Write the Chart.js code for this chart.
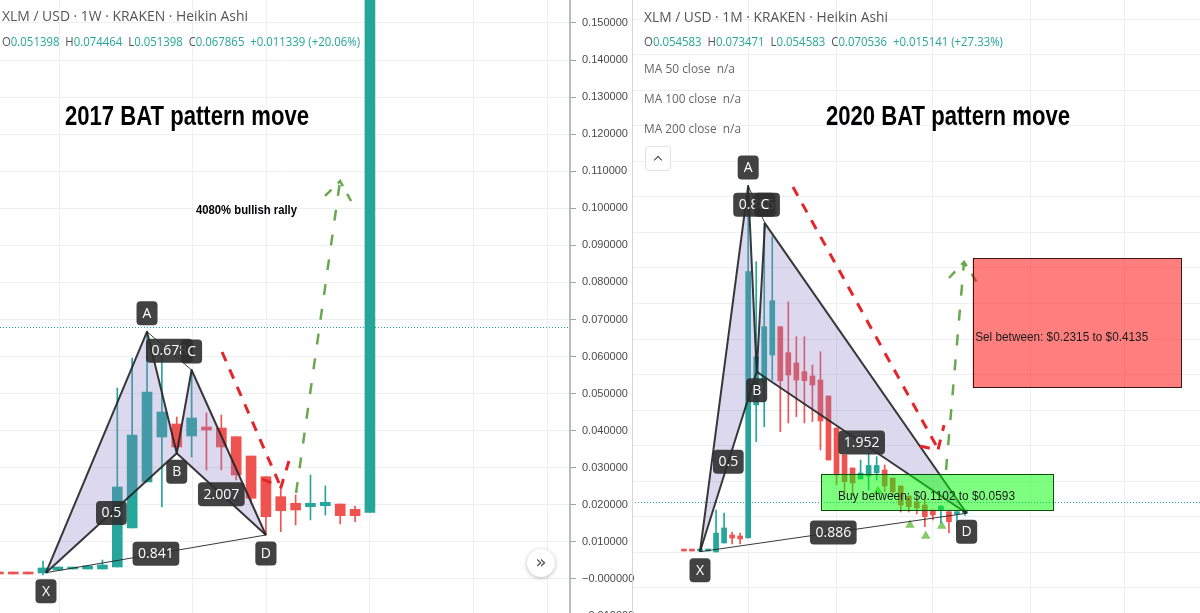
<!DOCTYPE html>
<html><head><meta charset="utf-8">
<script src="https://cdn.jsdelivr.net/npm/chart.js@4.4.1/dist/chart.umd.min.js"></script>
<style>
html,body{margin:0;padding:0;background:#fff;width:1200px;height:613px;overflow:hidden;}
#wrap{position:relative;width:1200px;height:613px;}
canvas{position:absolute;top:0;}
#cl{left:0;} #cr{left:632px;}
.t{position:absolute;white-space:nowrap;line-height:1;transform-origin:0 50%;font-family:"Open Sans",sans-serif;color:#555;}
.k{color:#555;} .v{color:#26a69a;}
.ttl{font-family:"Liberation Sans",Arial,sans-serif;font-weight:bold;color:#000;}
.btn1{position:absolute;left:527px;top:549px;width:28px;height:28px;border-radius:50%;background:#fff;box-shadow:0 1px 4px rgba(0,0,0,0.28);font:18px "DejaVu Sans",sans-serif;color:#555;text-align:center;line-height:26px;}
.btn2{position:absolute;left:645px;top:146px;width:24px;height:23px;border:1px solid #e0e3eb;border-radius:3px;background:#fff;}
.btn2 i{position:absolute;left:9px;top:10px;width:5px;height:5px;border-left:1.6px solid #444;border-top:1.6px solid #444;transform:rotate(45deg);}
</style></head>
<body>
<div id="wrap">
<canvas id="cl" width="640" height="613"></canvas>
<canvas id="cr" width="568" height="613"></canvas>

<div class="t" data-w="246" style="left:2px;top:7.5px;font-size:15px;">XLM / USD · 1W · KRAKEN · Heikin Ashi</div>
<div class="t" data-w="358" style="left:2px;top:35px;font-size:13px;"><span class="k">O</span><span class="v">0.051398</span>&nbsp; <span class="k">H</span><span class="v">0.074464</span>&nbsp; <span class="k">L</span><span class="v">0.051398</span>&nbsp; <span class="k">C</span><span class="v">0.067865</span>&nbsp; <span class="v">+0.011339 (+20.06%)</span></div>

<div class="t" data-w="244" style="left:644px;top:8.5px;font-size:15px;">XLM / USD · 1M · KRAKEN · Heikin Ashi</div>
<div class="t" data-w="359" style="left:644px;top:35px;font-size:13px;"><span class="k">O</span><span class="v">0.054583</span>&nbsp; <span class="k">H</span><span class="v">0.073471</span>&nbsp; <span class="k">L</span><span class="v">0.054583</span>&nbsp; <span class="k">C</span><span class="v">0.070536</span>&nbsp; <span class="v">+0.015141 (+27.33%)</span></div>
<div class="t" data-w="91" style="left:644px;top:62px;font-size:13px;color:#666;">MA 50 close&nbsp; n/a</div>
<div class="t" data-w="97" style="left:644px;top:92px;font-size:13px;color:#666;">MA 100 close&nbsp; n/a</div>
<div class="t" data-w="97" style="left:644px;top:122px;font-size:13px;color:#666;">MA 200 close&nbsp; n/a</div>
<div class="btn2"><i></i></div>

<div class="t ttl" data-w="244" style="left:65px;top:101.8px;font-size:28px;">2017 BAT pattern move</div>
<div class="t ttl" data-w="244" style="left:826px;top:101.8px;font-size:28px;">2020 BAT pattern move</div>
<div class="t ttl" data-w="101" style="left:196px;top:204px;font-size:12px;">4080% bullish rally</div>
<div class="btn1">»</div>
</div>

<script>
// ---------------- LEFT PANEL : XLM/USD weekly (Heikin Ashi) ----------------
const L_IDX   = [-3,-2,-1,0,1,2,3,4,5,6,7,8,9,10,11,12,13,14,15,16,17,18,19,20,21,22];
const L_OPEN  = [0.00189,0.00189,0.00189,0.00162,0.00243,0.0027,0.0027,0.0027,0.00324,0.01376,0.02617,0.03831,0.04181,0.03858,0.0410,0.04073,0.03839,0.03318,0.0276,0.0222,0.02042,0.0195,0.01977,0.02023,0.0188,0.01799];
const L_HIGH  = [0.00189,0.00189,0.00189,0.00486,0.00324,0.0031,0.00351,0.00513,0.05152,0.05962,0.06671,0.06177,0.0437,0.05638,0.04478,0.04424,0.03839,0.03318,0.0276,0.02455,0.02266,0.02805,0.02509,0.02023,0.01969,0.2];
const L_LOW   = [0.00135,0.00135,0.00135,0.00108,0.00243,0.0027,0.0027,0.0027,0.00324,0.01376,0.02617,0.01942,0.03391,0.03291,0.0294,0.0294,0.02671,0.0205,0.01187,0.01276,0.01457,0.01592,0.01726,0.01484,0.01546,0.01799];
const L_CLOSE = [0.00135,0.00135,0.00135,0.00297,0.00324,0.0031,0.00351,0.00378,0.02482,0.03885,0.05044,0.04505,0.03561,0.04343,0.04019,0.03561,0.02805,0.02177,0.01681,0.01842,0.01861,0.02042,0.02069,0.01708,0.01708,0.2];
const L_PAT_NAMES = ['X','A','B','C','D'];
const L_PAT_X = [0.2, 7.0, 9.0, 10.0, 15.0];
const L_PAT_Y = [0.0017, 0.06671, 0.03391, 0.05638, 0.01187];
const L_RATIOS = ['0.5','0.678','2.007','0.841'];      // XB, AC, BD, XD
const L_RED_X = [12.05, 15.88], L_RED_Y = [0.06124, 0.0259];
const L_RED2_X = [14.74, 16.02, 16.55], L_RED2_Y = [0.02698, 0.02482, 0.03183];
const L_GRN_X = [17.03, 19.99], L_GRN_Y = [0.0232, 0.10737];
const L_GRN2_X = [18.98, 19.99, 20.73], L_GRN2_Y = [0.10332, 0.10737, 0.10197];
const L_LAST = 0.067865;
const L_VGRID = [1.14, 10.09, 15.07, 22.0, 28.94, 33.92];
const L_YTICKS = [-0.01,0,0.01,0.02,0.03,0.04,0.05,0.06,0.07,0.08,0.09,0.10,0.11,0.12,0.13,0.14,0.15];

// ---------------- RIGHT PANEL : XLM/USD monthly (Heikin Ashi) ----------------
const R_IDX   = [-2,-1,0,1,2,3,4,5,6,7,8,9,10,11,12,13,14,15,16,17,18,19,20,21,22,23,24,25,26,27,28,29,30,31,32,33];
const R_OPEN  = [0.0032,0.0032,0.0018,0.0018,0.0004,0.0131,0.0243,0.0229,0.0201,0.2072,0.2400,0.2775,0.3173,0.2807,0.2662,0.2540,0.2480,0.2423,0.2198,0.1748,0.1369,0.1186,0.1031,0.1073,0.1120,0.1158,0.1045,0.0933,0.0792,0.0712,0.0665,0.0595,0.0595,0.0571,0.0539,0.0549];
const R_HIGH  = [0.0032,0.0032,0.0046,0.0046,0.0595,0.0553,0.0286,0.0271,0.5152,0.4087,0.4627,0.4439,0.3173,0.3525,0.3032,0.3032,0.2634,0.2821,0.2198,0.1748,0.1369,0.1186,0.1298,0.1397,0.1345,0.1228,0.1045,0.0933,0.0792,0.0712,0.0806,0.0595,0.0651,0.0571,0.0571,0.0595];
const R_LOW   = [0.0018,0.0018,0.0018,0.0018,0.0004,0.0131,0.0117,0.0117,0.0201,0.1556,0.1767,0.2423,0.1696,0.1819,0.1907,0.1819,0.1837,0.1439,0.1298,0.0950,0.0850,0.0800,0.1031,0.0876,0.1017,0.0852,0.0792,0.0567,0.0567,0.0539,0.0360,0.0454,0.0412,0.0271,0.0360,0.0520];
const R_CLOSE = [0.0018,0.0018,0.0032,0.0046,0.0271,0.0342,0.0201,0.0187,0.3947,0.2751,0.3173,0.3539,0.2414,0.2494,0.2423,0.2414,0.2353,0.1847,0.1298,0.1087,0.0993,0.0975,0.1115,0.1221,0.1221,0.0933,0.0852,0.0665,0.0641,0.0623,0.0501,0.0525,0.0651,0.0430,0.0571,0.0595];
const R_PAT_NAMES = ['X','A','B','C','D'];
const R_PAT_X = [0.0, 6.0, 7.06, 8.09, 33.2];
const R_PAT_Y = [0.0008, 0.5152, 0.2540, 0.4627, 0.0549];
const R_RATIOS = ['0.5','0.886','1.952','0.886'];      // XB, AC, BD, XD
const R_RED_X = [11.58, 29.51], R_RED_Y = [0.5138, 0.1481];
const R_RED2_X = [27.4, 29.64, 30.39], R_RED2_Y = [0.1495, 0.1439, 0.179];
const R_GRN_X = [30.64, 32.88], R_GRN_Y = [0.1158, 0.4083];
const R_GRN2_X = [31.01, 32.88, 34.62], R_GRN2_Y = [0.3858, 0.4083, 0.3774];
const R_BUY_X = [15.07, 43.96], R_BUY_Y = [0.0593, 0.1102];
const R_SELL_X = [33.96, 59.9], R_SELL_Y = [0.2315, 0.4135];
const R_SIG_X = [22.17, 26.15, 28.11, 30.1];
const R_SIG_Y = [0.0862, 0.0384, 0.0229, 0.037];
const R_LAST = 0.070536;
const R_VGRID = [6, 17, 29, 41.1, 52.9];
const R_YTICKS = [-0.05,0,0.05,0.1,0.15,0.2,0.25,0.3,0.35,0.4,0.45,0.5,0.55,0.6,0.65,0.7,0.75];

// ---------------- helpers ----------------
const GRID = '#eceff3', TEAL = '#26a69a', RED = '#ef5350';

// fit HTML text widths
document.querySelectorAll('[data-w]').forEach(el => {
  const w = el.getBoundingClientRect().width;
  el.style.transform = 'scaleX(' + (parseFloat(el.dataset.w) / w) + ')';
});

function candleSets(IDX, O, H, L, C, bodyW) {
  const col = IDX.map((_, i) => C[i] >= O[i] ? TEAL : RED);
  return [
    { type: 'bar', data: IDX.map((x, i) => ({ x, y: [O[i], C[i]] })), backgroundColor: col,
      barThickness: bodyW, grouped: false, minBarLength: 2, borderWidth: 0 },
    { type: 'bar', data: IDX.map((x, i) => ({ x, y: [L[i], H[i]] })), backgroundColor: col,
      barThickness: 1, grouped: false, borderWidth: 0 }
  ];
}
function fmt(v) {
  if (Math.abs(v) < 1e-12) return '\u22120.000000';
  return v < 0 ? '\u2212' + Math.abs(v).toFixed(6) : v.toFixed(6);
}
function makeScales(xmin, xmax, vgrid, ymin, ymax, yticks, showY, axisW) {
  return {
    x: { type: 'linear', min: xmin, max: xmax, offset: false,
      grid: { color: GRID, drawTicks: false, offset: false },
      border: { display: false }, ticks: { display: false },
      afterBuildTicks: s => { s.ticks = vgrid.map(v => ({ value: v })); },
      afterFit: s => { s.height = 0; s.paddingLeft = 0; s.paddingRight = 0; } },
    y: { type: 'linear', position: showY ? 'right' : 'left', min: ymin, max: ymax,
      grid: { color: GRID, drawTicks: showY, tickLength: 6, tickColor: '#9a9ea6' },
      border: { display: showY, color: '#b8bbc2', width: 2 },
      ticks: showY ? { display: true, autoSkip: false, padding: 6, color: '#4a4a4a',
        font: { family: 'Liberation Sans', size: 11 }, callback: v => fmt(v) } : { display: false },
      afterBuildTicks: s => { s.ticks = yticks.map(v => ({ value: v })); },
      afterFit: s => { s.width = axisW; s.paddingTop = 0; s.paddingBottom = 0; } }
  };
}
function px(chart, x, y) { return [chart.scales.x.getPixelForValue(x), chart.scales.y.getPixelForValue(y)]; }
function pathOf(ctx, chart, xs, ys) {
  ctx.beginPath();
  xs.forEach((x, i) => { const p = px(chart, x, ys[i]); i ? ctx.lineTo(p[0], p[1]) : ctx.moveTo(p[0], p[1]); });
}
function rr(ctx, x, y, w, h, r) {
  ctx.beginPath(); ctx.moveTo(x + r, y);
  ctx.arcTo(x + w, y, x + w, y + h, r); ctx.arcTo(x + w, y + h, x, y + h, r);
  ctx.arcTo(x, y + h, x, y, r); ctx.arcTo(x, y, x + w, y, r); ctx.closePath();
}
function tag(ctx, text, cx, cy) {
  ctx.font = '14px "Open Sans", sans-serif';
  const w = Math.max(21, ctx.measureText(text).width + 11), h = 24;
  ctx.fillStyle = 'rgba(46,46,46,0.9)'; rr(ctx, cx - w / 2, cy - h / 2, w, h, 4); ctx.fill();
  ctx.fillStyle = '#ffffff'; ctx.textAlign = 'center'; ctx.textBaseline = 'middle';
  ctx.fillText(text, cx, cy + 0.5);
}

function patternPlugin(id, P) {
  return {
    id,
    beforeDatasetsDraw(chart) {
      const { ctx, chartArea: a } = chart;
      const y = Math.round(chart.scales.y.getPixelForValue(P.last)) + 0.5;
      ctx.save(); ctx.strokeStyle = TEAL; ctx.lineWidth = 1; ctx.setLineDash([1, 2]);
      ctx.beginPath(); ctx.moveTo(a.left, y); ctx.lineTo(a.right, y); ctx.stroke(); ctx.restore();
    },
    afterDatasetsDraw(chart) {
      const { ctx, chartArea: a } = chart;
      const pts = P.x.map((x, i) => px(chart, x, P.y[i]));
      const [X, A, B, C, D] = pts;
      ctx.save();
      ctx.beginPath(); ctx.rect(a.left, a.top, a.right - a.left, a.bottom - a.top); ctx.clip();
      // triangles
      ctx.fillStyle = 'rgba(138,125,198,0.3)';
      [[X, A, B], [B, C, D]].forEach(t => {
        ctx.beginPath(); ctx.moveTo(t[0][0], t[0][1]); ctx.lineTo(t[1][0], t[1][1]); ctx.lineTo(t[2][0], t[2][1]);
        ctx.closePath(); ctx.fill();
      });
      ctx.strokeStyle = 'rgba(35,35,35,0.9)'; ctx.lineJoin = 'round'; ctx.lineWidth = 2;
      ctx.beginPath(); ctx.moveTo(X[0], X[1]); [A, B, C, D].forEach(p => ctx.lineTo(p[0], p[1])); ctx.stroke();
      ctx.beginPath(); ctx.moveTo(X[0], X[1]); ctx.lineTo(B[0], B[1]); ctx.lineTo(D[0], D[1]); ctx.stroke();
      ctx.lineWidth = 1;
      ctx.beginPath(); ctx.moveTo(A[0], A[1]); ctx.lineTo(C[0], C[1]); ctx.moveTo(X[0], X[1]); ctx.lineTo(D[0], D[1]); ctx.stroke();
      // projected moves
      ctx.lineCap = 'butt'; ctx.lineJoin = 'miter';
      ctx.strokeStyle = '#e3262a'; ctx.lineWidth = 3; ctx.setLineDash([10, 9]);
      pathOf(ctx, chart, P.redX, P.redY); ctx.stroke();
      pathOf(ctx, chart, P.red2X, P.red2Y); ctx.stroke();
      ctx.strokeStyle = '#6aa84f'; ctx.lineWidth = 2.5; ctx.setLineDash([11, 14]);
      pathOf(ctx, chart, P.grnX, P.grnY); ctx.stroke();
      ctx.setLineDash([9, 9]);
      pathOf(ctx, chart, P.grn2X, P.grn2Y); ctx.stroke();
      ctx.setLineDash([]);
      // zones
      (P.zones || []).forEach(z => {
        const p0 = px(chart, z.x[0], z.y[1]), p1 = px(chart, z.x[1], z.y[0]);
        ctx.fillStyle = z.fill; ctx.fillRect(p0[0], p0[1], p1[0] - p0[0], p1[1] - p0[1]);
        ctx.strokeStyle = z.stroke; ctx.lineWidth = 1;
        ctx.strokeRect(Math.round(p0[0]) + 0.5, Math.round(p0[1]) + 0.5, Math.round(p1[0] - p0[0]), Math.round(p1[1] - p0[1]));
        ctx.fillStyle = '#1a1a1a'; ctx.font = '13px "Liberation Sans", Arial, sans-serif';
        ctx.textAlign = 'left'; ctx.textBaseline = 'middle';
        ctx.fillText(z.text, p0[0] + z.dx, (p0[1] + p1[1]) / 2 + z.dy, z.tw);
      });
      ctx.restore();
      // labels
      ctx.save();
      const pairs = [[0, 2], [1, 3], [2, 4], [0, 4]];
      pairs.forEach((pr, i) => {
        const p = pts[pr[0]], q = pts[pr[1]];
        tag(ctx, P.ratios[i], (p[0] + q[0]) / 2, (p[1] + q[1]) / 2);
      });
      const dir = [1, -1, 1, -1, 1];
      pts.forEach((p, i) => tag(ctx, P.names[i], p[0], p[1] + dir[i] * 18.5));
      if (P.leftBorder) {
        ctx.strokeStyle = '#d3d6dc'; ctx.lineWidth = 1;
        ctx.beginPath(); ctx.moveTo(0.5, 0); ctx.lineTo(0.5, chart.height); ctx.stroke();
      }
      ctx.restore();
    }
  };
}

const baseOpts = (scales) => ({
  responsive: false, maintainAspectRatio: false, animation: false,
  layout: { padding: 0, autoPadding: false },
  plugins: { legend: { display: false }, tooltip: { enabled: false } },
  scales
});

// ---------------- LEFT chart ----------------
new Chart(document.getElementById('cl'), {
  type: 'bar',
  data: { datasets: candleSets(L_IDX, L_OPEN, L_HIGH, L_LOW, L_CLOSE, 10) },
  options: baseOpts(makeScales(-2.894, 35.464, L_VGRID, -0.009172, 0.15619, L_YTICKS, true, 70)),
  plugins: [patternPlugin('patL', {
    names: L_PAT_NAMES, x: L_PAT_X, y: L_PAT_Y, ratios: L_RATIOS,
    redX: L_RED_X, redY: L_RED_Y, red2X: L_RED2_X, red2Y: L_RED2_Y,
    grnX: L_GRN_X, grnY: L_GRN_Y, grn2X: L_GRN2_X, grn2Y: L_GRN2_Y,
    last: L_LAST, zones: []
  })]
});

// ---------------- RIGHT chart ----------------
const rSets = candleSets(R_IDX, R_OPEN, R_HIGH, R_LOW, R_CLOSE, 5);
rSets.push({ type: 'scatter', data: R_SIG_X.map((x, i) => ({ x, y: R_SIG_Y[i] })),
  pointStyle: 'triangle', pointRadius: 5.5, backgroundColor: 'rgba(120,196,88,0.9)', borderWidth: 0, showLine: false });
new Chart(document.getElementById('cr'), {
  type: 'bar',
  data: { datasets: rSets },
  options: baseOpts(makeScales(-8.468, 62.267, R_VGRID, -0.08537, 0.77679, R_YTICKS, false, 0)),
  plugins: [patternPlugin('patR', {
    names: R_PAT_NAMES, x: R_PAT_X, y: R_PAT_Y, ratios: R_RATIOS,
    redX: R_RED_X, redY: R_RED_Y, red2X: R_RED2_X, red2Y: R_RED2_Y,
    grnX: R_GRN_X, grnY: R_GRN_Y, grn2X: R_GRN2_X, grn2Y: R_GRN2_Y,
    last: R_LAST, leftBorder: true,
    zones: [
      { x: R_BUY_X, y: R_BUY_Y, fill: 'rgba(0,255,0,0.5)', stroke: '#0c4f0c', text: 'Buy between: $0.1102 to $0.0593', dx: 17, dy: 4, tw: 177 },
      { x: R_SELL_X, y: R_SELL_Y, fill: 'rgba(255,0,0,0.5)', stroke: '#3a1414', text: 'Sel between: $0.2315 to $0.4135', dx: 2.5, dy: 14.5, tw: 173 }
    ]
  })]
});
</script>
</body></html>
